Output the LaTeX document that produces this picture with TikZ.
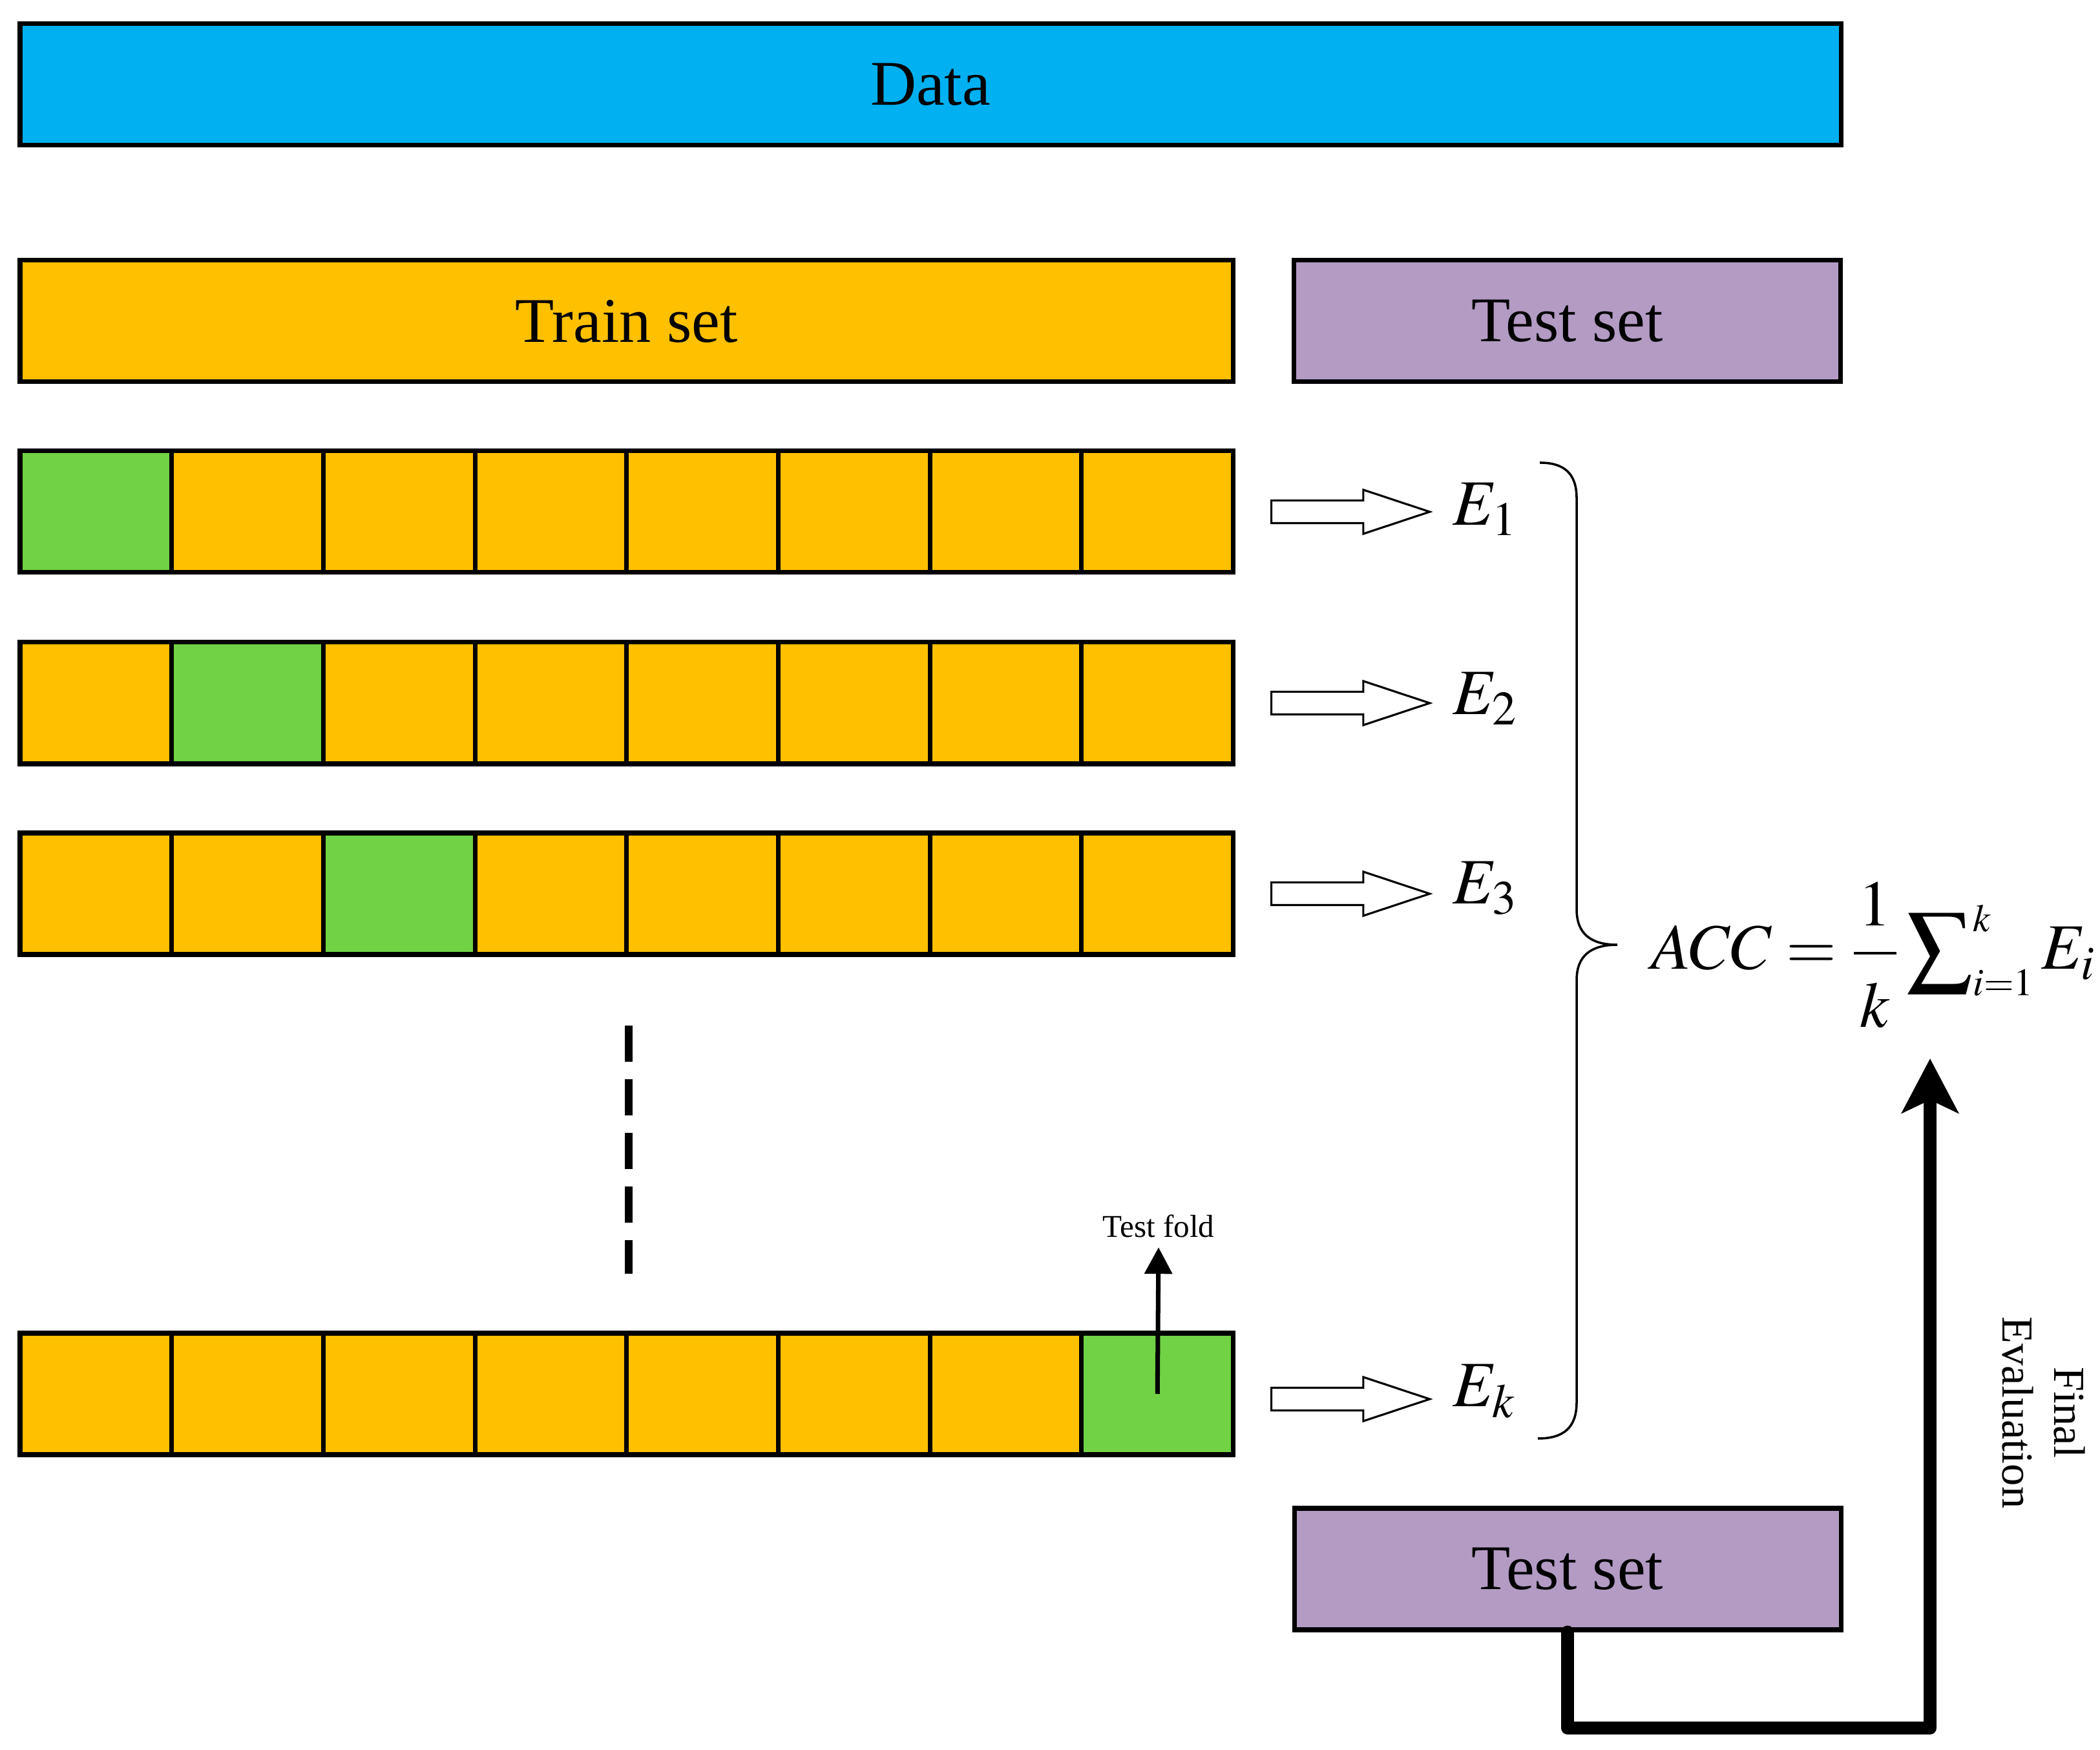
\documentclass[tikz,border=0pt]{standalone}
\usepackage{mathptmx}
\usepackage[no-math]{fontspec}
\setmainfont{Liberation Serif}
\usetikzlibrary{positioning, shapes.arrows, arrows.meta}
\definecolor{datac}{HTML}{00B0F0}
\definecolor{trainc}{HTML}{FFC000}
\definecolor{foldc}{HTML}{70D244}
\definecolor{testc}{HTML}{B39BC4}
\tikzstyle{setbox}=
[
	rectangle
	, minimum height=1.88cm
	, inner sep=0pt
	, draw=black
	, line width=2pt
	, font=\fontsize{28}{34}\selectfont
]
\tikzstyle{cell}=
[
	rectangle
	, minimum width=2.347cm
	, minimum height=1.88cm
	, draw=black
	, line width=2pt
]
\tikzstyle{blockarrow}=
[
	single arrow
	, text height=0.32cm
	, text depth=0pt
	, inner sep=0pt
	, minimum height=2.45cm
	, single arrow head extend=0.165cm
	, single arrow tip angle=36.7
	, draw=black
	, line width=0.9pt
	, fill=white
]
\tikzstyle{elabel} = [inner sep=0pt, anchor=base west, font=\fontsize{28.5}{34}\selectfont]
\tikzstyle{foldarrow} = [line width=2pt,-{Triangle[length=0.41cm,width=0.42cm]}]
\tikzstyle{evalarrow} = [line width=0.2cm,line join=round,line cap=round,-{Stealth[length=0.84cm,width=0.87cm,inset=0.2cm]}]
\tikzstyle{gapline} = [line width=3.4pt,dash pattern=on 0.56cm off 0.27cm]

\begin{document}
\begin{tikzpicture}[node distance=0.87cm]
\useasboundingbox (0,0) rectangle (32.5,27.07);

\node(data)[setbox, fill=datac, minimum width=28.18cm] at (14.40,25.76) {Data};
\node(train)[setbox, fill=trainc, minimum width=18.775cm] at (9.6975,22.10) {Train set};
\node(test)[setbox, fill=testc, minimum width=8.46cm, right=of train]{Test set};

% folds
\foreach \r/\y/\g in {1/19.15/1, 2/16.19/2, 3/13.24/3, k/5.50/8}
{
	\foreach \i in {1,...,8}
	{
		\ifnum\i=\g \def\cellc{foldc}\else\def\cellc{trainc}\fi
		\node(c\r-\i)[cell, fill=\cellc] at ({0.31+(\i-0.5)*2.347},\y) {};
	}
}

\foreach \r/\y/\b in {1/19.15/18.94, 2/16.19/16.01, 3/13.24/13.08, k/5.42/5.30}
{
	\node(arr\r)[blockarrow, anchor=west] at (19.66,\y) {};
	\node(e\r)[elabel] at (22.48,\b) {$E_{\r}$};
}

\draw[gapline]([yshift=-1.06cm]c3-4.south east)--([yshift=0.88cm]ck-4.north east);

\node(tfold)[anchor=base, inner sep=0pt, font=\fontsize{14}{17}\selectfont] at (17.93,7.92) {Test fold};
\draw[foldarrow](ck-8.center)--([yshift=-0.14cm]tfold.south);

% brace
\draw[line width=1pt](23.83,19.91) .. controls (24.20,19.91) and (24.40,19.75) .. (24.40,19.36)
	--(24.40,13.00) .. controls (24.40,12.62) and (24.62,12.45) .. (25.03,12.45)
	.. controls (24.62,12.45) and (24.40,12.28) .. (24.40,11.90)
	--(24.40,5.37) .. controls (24.40,4.98) and (24.20,4.81) .. (23.80,4.81);

\node(acc)[elabel] at (25.55,12.07) {$\displaystyle ACC=\frac{\mkern1.5mu\rule[-0.25em]{0pt}{1em}1\mkern1.5mu}{\mkern1.5mu\rule{0pt}{1em}k\mkern1.5mu}\sum\nolimits_{\scriptscriptstyle i=1}^{\scriptscriptstyle k}E_i$};

\node(test2)[setbox, fill=testc, minimum width=8.46cm] at (24.26,2.79) {Test set};
\coordinate(turn) at (29.87,0.33);
\coordinate(evaltip) at (29.87,10.69);
\draw[evalarrow](test2.south) |- (turn)--(evaltip);

\node(final)[rotate=-90, align=center, font=\fontsize{19.5}{22.8}\selectfont] at (31.63,5.21) {Final\\Evaluation};

\end{tikzpicture}
\end{document}
